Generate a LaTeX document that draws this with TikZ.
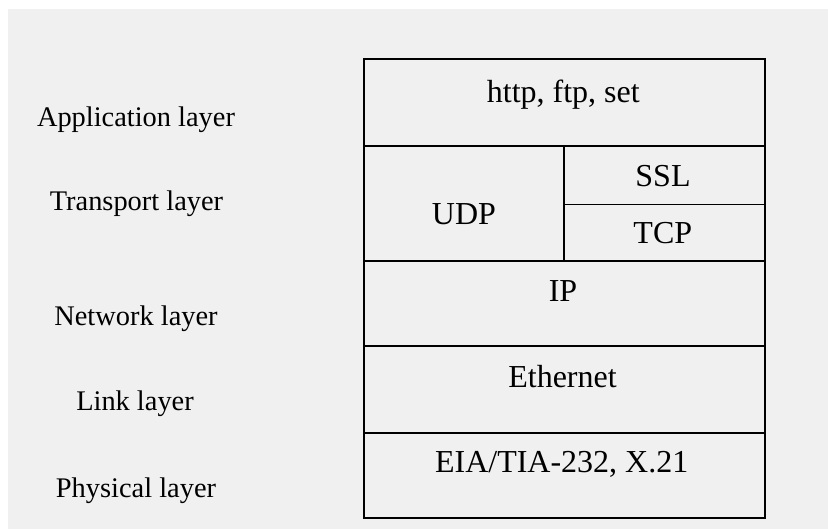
\documentclass[tikz,border=0pt]{standalone}
\usepackage{fontspec}
\setmainfont{Liberation Serif}
\begin{document}
\begin{tikzpicture}[x=1pt,y=-1pt,
  cell/.style={draw=black, line width=1.8pt, inner sep=0pt, anchor=north west},
  celltxt/.style={anchor=base, inner sep=0pt, font=\fontsize{32}{38}\selectfont},
  laytxt/.style={anchor=base, inner sep=0pt, font=\fontsize{28.4}{34}\selectfont}]
\useasboundingbox (0,0) rectangle (828,529);
\fill[white] (0,0) rectangle (828,529);
\fill[fill={rgb,255:red,240;green,240;blue,240}] (8,9) rectangle (828,529);
% cells
\node[cell, minimum width=401pt, minimum height=87pt] (app) at (363,58.3) {};
\node[cell, minimum width=200.3pt, minimum height=115pt] (udp) at (363,145.3) {};
\node[cell, minimum width=200.7pt, minimum height=58.4pt] (ssl) at (563.3,145.3) {};
\node[cell, minimum width=200.7pt, minimum height=56.6pt] (tcp) at (563.3,203.7) {};
\node[cell, minimum width=401pt, minimum height=85pt] (ip) at (363,260.3) {};
\node[cell, minimum width=401pt, minimum height=86.7pt] (eth) at (363,345.3) {};
\node[cell, minimum width=401pt, minimum height=84.7pt] (phy) at (363,432) {};
% cell texts
\node[celltxt] (tapp) at (563.3,102.7) {http, ftp, set};
\node[celltxt] (tssl) at (663,186.7) {SSL};
\node[celltxt] (tudp) at (464,225) {UDP};
\node[celltxt] (ttcp) at (662.8,243.3) {TCP};
\node[celltxt] (tip) at (563,301.7) {IP};
\node[celltxt] (teth) at (562.5,387.7) {Ethernet};
\node[celltxt] (tphy) at (561.7,472.7) {EIA/TIA-232, X.21};
% layer labels
\node[laytxt] (lapp) at (136,126.7) {Application layer};
\node[laytxt] (ltra) at (136.5,210.7) {Transport layer};
\node[laytxt] (lnet) at (136,326) {Network layer};
\node[laytxt] (llnk) at (135,410.7) {Link layer};
\node[laytxt] (lphy) at (136,497.3) {Physical layer};
\end{tikzpicture}
\end{document}
